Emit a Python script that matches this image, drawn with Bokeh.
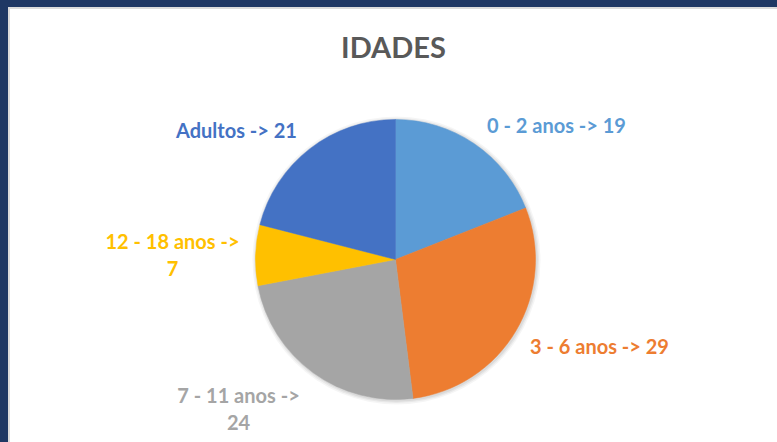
import numpy as np
from bokeh.plotting import figure
from bokeh.models import Range1d, ColumnDataSource
from bokeh.core.properties import value
from bokeh.embed import file_html
from bokeh.resources import INLINE

# ---- data ----
title_text = "IDADES"
categories = ["0 - 2 anos", "3 - 6 anos", "7 - 11 anos", "12 - 18 anos", "Adultos"]
counts = [19, 29, 24, 7, 21]
colors = ["#5B9BD5", "#ED7D31", "#A5A5A5", "#FFC000", "#4472C4"]
wrap_label = [False, False, True, True, False]

# ---- layout (page pixel coordinates) ----
W, H = 777, 442
cx, cy, R = 395, 259, 140
label_pos = [(556, 124), (599, 345), (238, 408), (172, 254), (236, 129)]
FONT = "Lato"

p = figure(width=W, height=H, output_backend="svg", toolbar_location=None,
           x_range=Range1d(0, W), y_range=Range1d(-H, 0),
           min_border=0, outline_line_color=None)
p.axis.visible = False
p.grid.visible = False
p.border_fill_color = None
p.background_fill_color = None

total = float(sum(counts))
cum = np.cumsum([0] + counts)
start = [np.pi / 2 - 2 * np.pi * cum[i] / total for i in range(len(counts))]
end = [np.pi / 2 - 2 * np.pi * cum[i + 1] / total for i in range(len(counts))]

src = ColumnDataSource(dict(cat=categories, val=counts, start=start, end=end, color=colors))

# soft shadow
for k, a in [(4, 0.04), (2.5, 0.05), (1.2, 0.06)]:
    p.circle(x=cx + 1, y=-(cy + 1), radius=R + k, fill_color="#000000", fill_alpha=a, line_color=None)

p.wedge(x=cx, y=-cy, radius=R, start_angle="start", end_angle="end", direction="clock",
        fill_color="color", line_color="color", line_width=0.5, source=src)

labels = [(f"{c} ->\n{v}" if w else f"{c} -> {v}") for c, v, w in zip(categories, counts, wrap_label)]
lsrc = ColumnDataSource(dict(x=[q[0] for q in label_pos], y=[-q[1] for q in label_pos],
                             text=labels, color=colors))
p.text(x="x", y="y", text="text", text_color="color", source=lsrc,
       text_font=value(FONT), text_font_style="bold", text_font_size="20px",
       text_align="center", text_baseline="middle", text_line_height=1.15)

p.text(x=[393], y=[-46], text=[title_text], text_color="#595959",
       text_font=value(FONT), text_font_style="bold", text_font_size="29px",
       text_align="center", text_baseline="middle")

html = file_html(p, INLINE, title=title_text)
style = ("<style>html{background:#FFFFFF;box-shadow: inset 8px 7px 0 0 #1F3864, "
         "inset 10px 9px 0 0 #DCDCDC;} body{background:transparent;}</style>")
html = html.replace("<head>", "<head>" + style, 1)
open("out.html", "w").write(html)
